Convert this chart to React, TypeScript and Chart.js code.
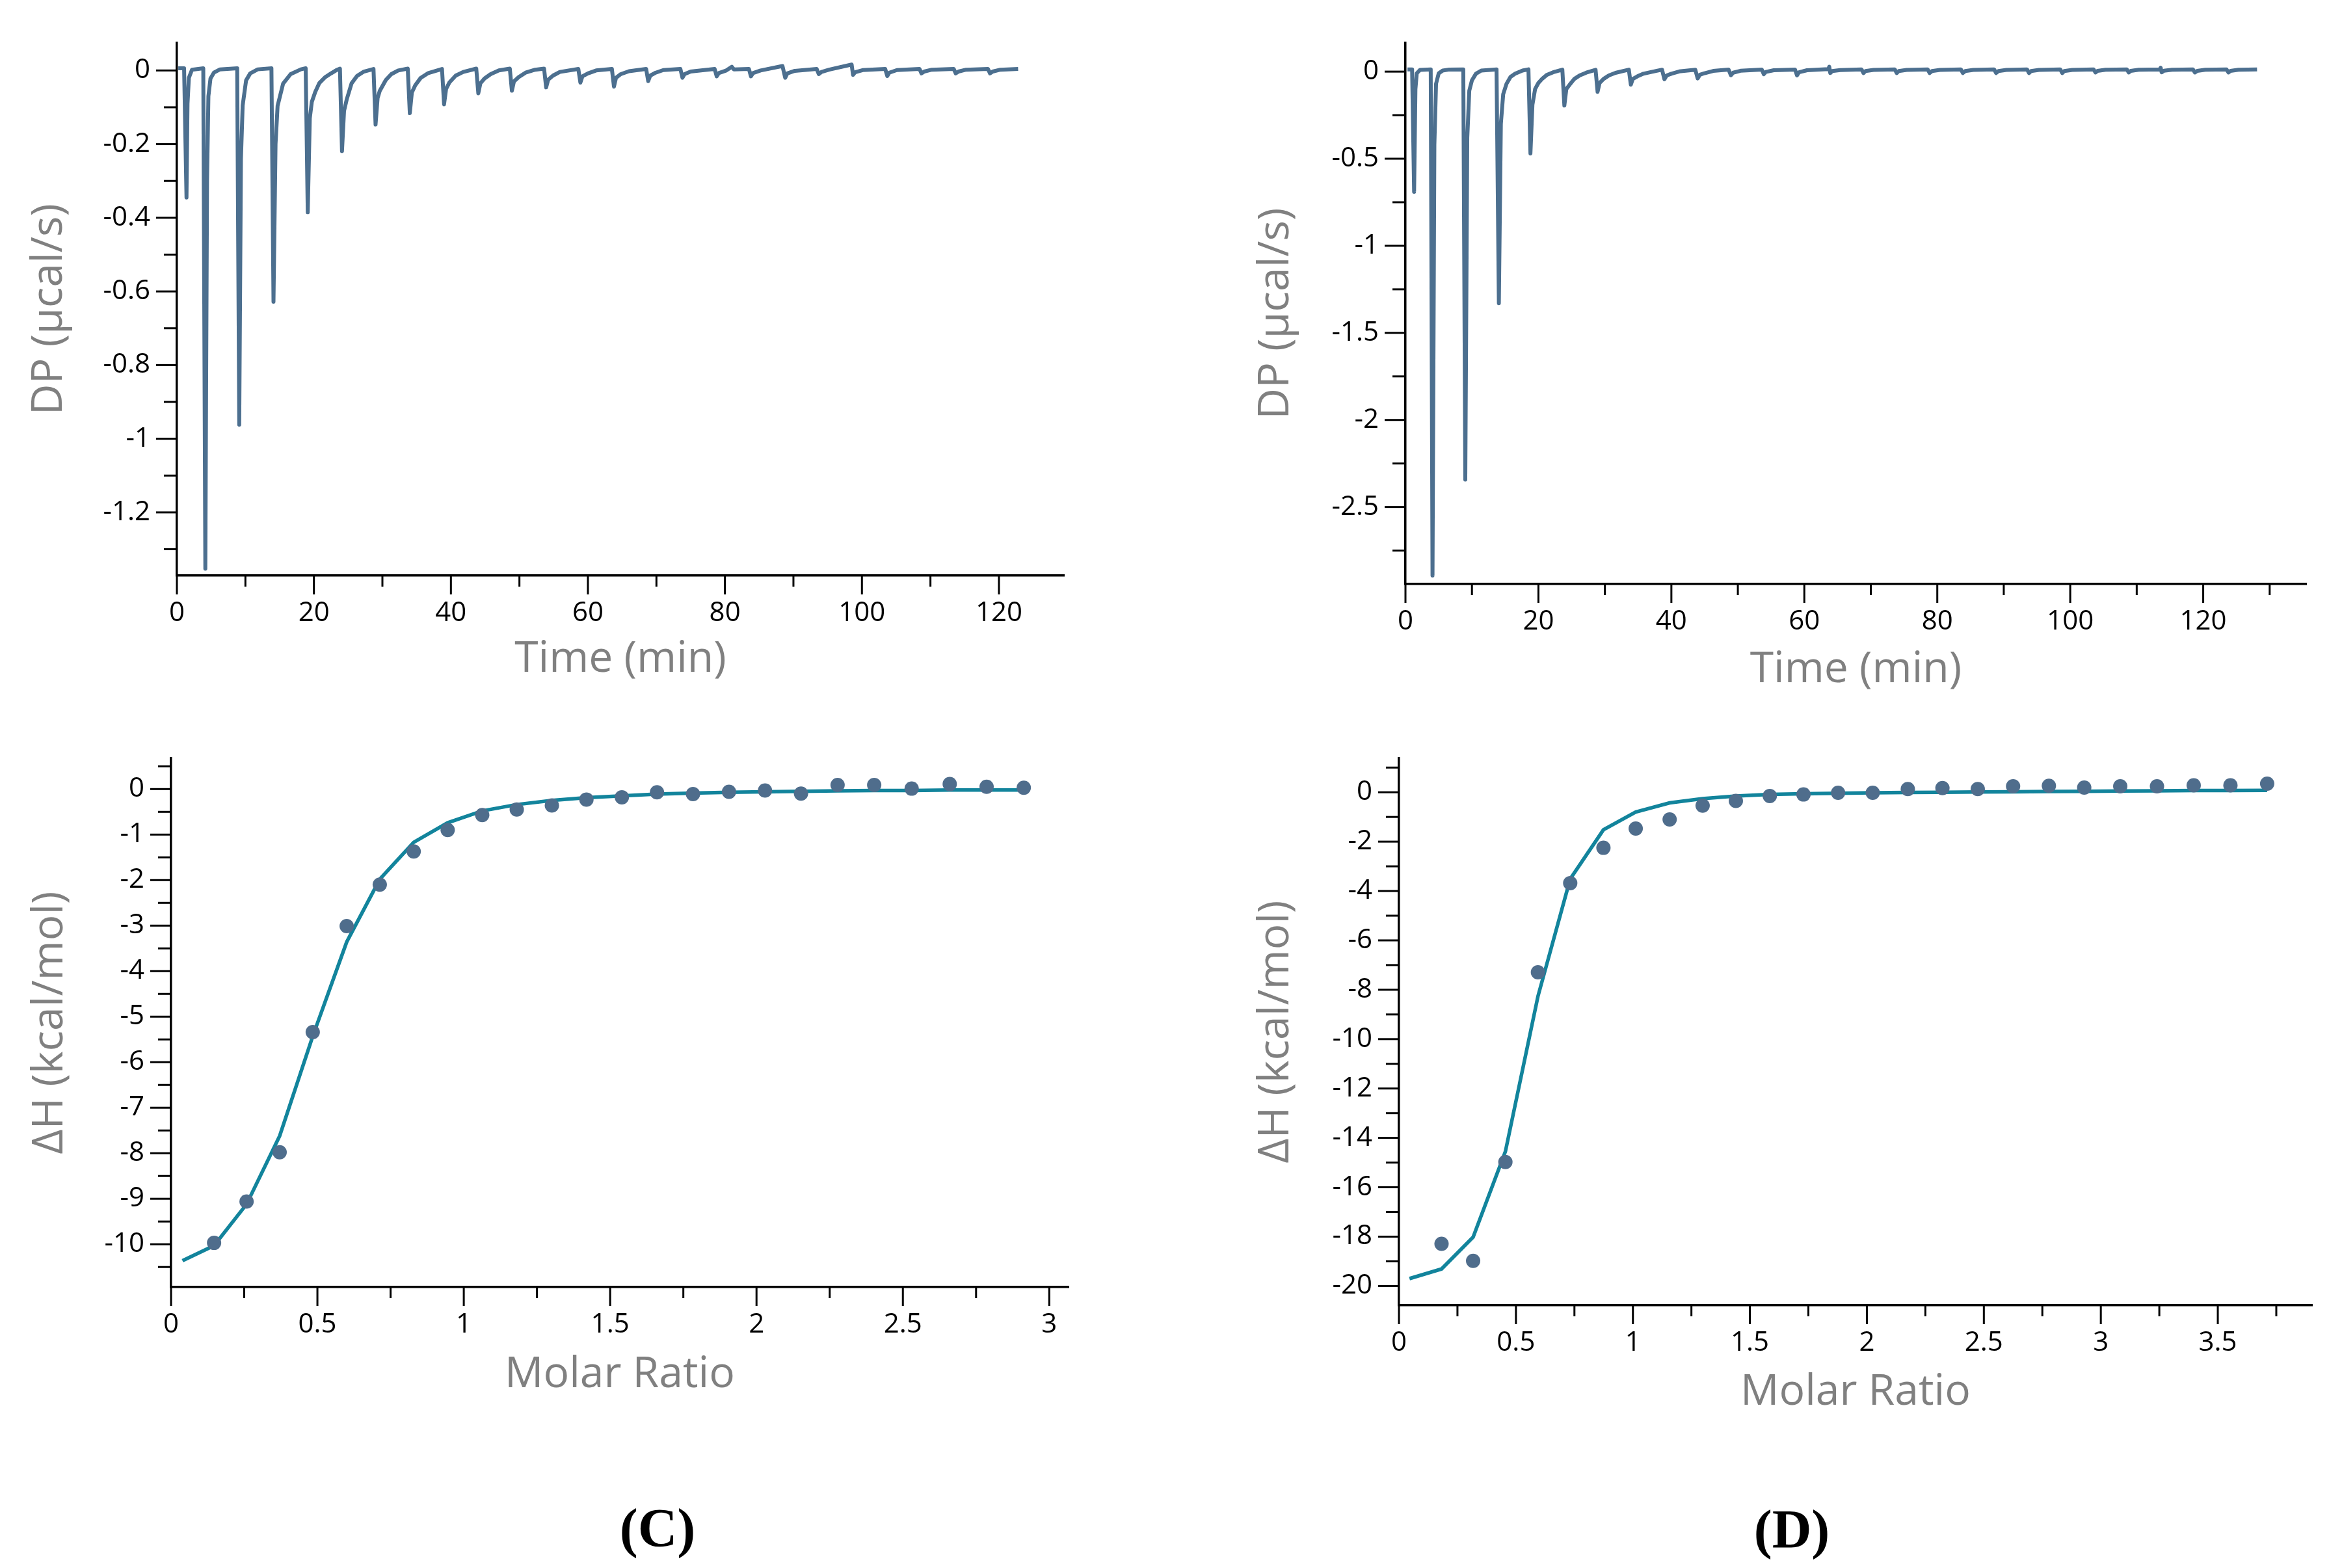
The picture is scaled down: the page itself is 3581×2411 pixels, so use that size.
import React, { useEffect, useRef } from "react";
import { Chart, registerables } from "chart.js";

Chart.register(...registerables);

const FONT = "'Open Sans', 'Noto Sans', sans-serif";
const TRACE = "#4c6f8f";
const DOTS = "#4f6d8c";
const FIT = "#12849c";

// ---- (C) raw thermogram: [time (min), DP (µcal/s)]
const thermoC: [number, number][] = [
  [0.2, 0.006], [1.05, 0.006], [1.4, -0.345], [1.55, -0.09], [1.75, -0.02], [2.2, 0.002], [3.85, 0.006],
  [4.15, -1.353], [4.4, -0.3], [4.6, -0.07], [4.9, -0.022], [5.4, -0.006], [6.3, 0.003], [8.8, 0.006],
  [9.1, -0.962], [9.35, -0.24], [9.6, -0.095], [10.1, -0.027], [10.7, -0.008], [11.8, 0.003], [13.8, 0.006],
  [14.1, -0.628], [14.4, -0.2], [14.7, -0.096], [15.5, -0.036], [16.6, -0.01], [18.1, 0.003], [18.8, 0.006],
  [19.1, -0.385], [19.4, -0.13], [19.7, -0.085], [20.2, -0.058], [20.8, -0.034], [21.6, -0.019], [22.5, -0.008], [23.4, 0.002], [23.8, 0.005],
  [24.1, -0.219], [24.4, -0.11], [24.8, -0.078], [25.5, -0.035], [26.3, -0.015], [27.3, -0.003], [28.7, 0.004],
  [29.0, -0.147], [29.3, -0.075], [29.6, -0.056], [30.5, -0.026], [31.3, -0.01], [32.3, 0.0], [33.7, 0.005],
  [34.0, -0.116], [34.3, -0.06], [34.8, -0.04], [35.6, -0.02], [36.7, -0.007], [38.7, 0.004],
  [39.0, -0.092], [39.3, -0.05], [39.8, -0.032], [40.7, -0.014], [41.8, -0.004], [43.7, 0.005],
  [44.0, -0.062], [44.3, -0.035], [44.9, -0.022], [45.8, -0.01], [47.0, 0.0], [48.6, 0.005],
  [48.9, -0.055], [49.2, -0.03], [49.9, -0.018], [50.9, -0.006], [52.3, 0.002], [53.6, 0.005],
  [53.9, -0.046], [54.2, -0.025], [54.9, -0.014], [55.9, -0.004], [58.6, 0.004],
  [58.9, -0.033], [59.2, -0.016], [60.0, -0.008], [61.2, 0.0], [63.5, 0.004],
  [63.8, -0.044], [64.1, -0.02], [64.8, -0.01], [66.0, -0.002], [68.5, 0.004],
  [68.8, -0.029], [69.1, -0.014], [69.9, -0.006], [71.0, 0.001], [73.5, 0.004],
  [73.8, -0.02], [74.1, -0.01], [75.0, -0.003], [78.5, 0.004],
  [78.8, -0.016], [79.1, -0.007], [80.2, 0.0], [81.0, 0.01], [81.3, 0.003], [83.5, 0.004],
  [83.8, -0.016], [84.1, -0.007], [85.2, 0.0], [88.4, 0.012],
  [88.8, -0.02], [89.1, -0.008], [90.2, -0.001], [93.4, 0.004],
  [93.7, -0.01], [94.1, -0.004], [95.2, 0.002], [98.5, 0.016],
  [98.7, -0.012], [99.0, -0.005], [100.1, 0.001], [103.4, 0.004],
  [103.7, -0.015], [104.0, -0.006], [105.1, 0.001], [108.4, 0.004],
  [108.7, -0.008], [109.1, -0.003], [110.2, 0.002], [113.4, 0.004],
  [113.7, -0.008], [114.1, -0.003], [115.2, 0.002], [118.4, 0.004],
  [118.7, -0.008], [119.1, -0.003], [120.2, 0.002], [122.8, 0.004],
];

// ---- (D) raw thermogram: [time (min), DP (µcal/s)]
const thermoD: [number, number][] = [
  [0.3, 0.013], [1.0, 0.013], [1.3, -0.69], [1.5, -0.1], [1.7, -0.01], [2.2, 0.01], [3.8, 0.013],
  [4.07, -2.893], [4.35, -0.42], [4.6, -0.07], [5.0, -0.01], [5.6, 0.006], [6.6, 0.012], [8.7, 0.013],
  [9.0, -2.343], [9.3, -0.38], [9.6, -0.11], [10.0, -0.05], [10.6, -0.012], [11.4, 0.006], [13.7, 0.013],
  [14.05, -1.33], [14.35, -0.3], [14.7, -0.13], [15.2, -0.07], [15.8, -0.03], [16.5, -0.012], [17.6, 0.006], [18.5, 0.013],
  [18.8, -0.47], [19.1, -0.19], [19.5, -0.1], [20.0, -0.065], [20.6, -0.04], [21.3, -0.018], [22.2, -0.004], [23.6, 0.011],
  [23.9, -0.195], [24.2, -0.1], [24.7, -0.075], [25.4, -0.042], [26.2, -0.022], [27.2, -0.006], [28.6, 0.01],
  [28.9, -0.116], [29.2, -0.065], [29.8, -0.042], [30.6, -0.022], [31.6, -0.007], [33.6, 0.011],
  [33.9, -0.075], [34.2, -0.042], [34.9, -0.027], [35.8, -0.012], [37.0, -0.002], [38.6, 0.011],
  [38.95, -0.044], [39.3, -0.022], [40.0, -0.012], [41.2, 0.001], [43.6, 0.011],
  [43.95, -0.039], [44.3, -0.018], [45.0, -0.009], [46.3, 0.004], [48.6, 0.012],
  [48.95, -0.021], [49.3, -0.006], [50.4, 0.005], [53.6, 0.012],
  [53.9, -0.015], [54.2, -0.002], [55.4, 0.008], [58.6, 0.012],
  [58.9, -0.022], [59.2, -0.004], [60.4, 0.008], [63.6, 0.014], [63.75, 0.028],
  [63.9, -0.008], [64.2, 0.003], [65.4, 0.009], [68.6, 0.013],
  [68.9, -0.008], [69.2, 0.003], [70.4, 0.01], [73.6, 0.013],
  [73.9, -0.008], [74.2, 0.003], [75.4, 0.01], [78.55, 0.013],
  [78.85, -0.008], [79.2, 0.003], [80.4, 0.01], [83.55, 0.013],
  [83.85, -0.008], [84.2, 0.003], [85.4, 0.01], [88.55, 0.013],
  [88.85, -0.008], [89.2, 0.003], [90.4, 0.01], [93.5, 0.013],
  [93.8, -0.008], [94.1, 0.003], [95.3, 0.01], [98.5, 0.013],
  [98.8, -0.008], [99.1, 0.003], [100.3, 0.01], [103.5, 0.013],
  [103.8, -0.005], [104.1, 0.004], [105.3, 0.011], [108.5, 0.013],
  [108.8, -0.005], [109.1, 0.004], [110.3, 0.011], [113.45, 0.013], [113.6, 0.022],
  [113.75, -0.004], [114.1, 0.005], [115.3, 0.011], [118.45, 0.013],
  [118.75, -0.005], [119.1, 0.004], [120.3, 0.011], [123.5, 0.013],
  [123.8, -0.005], [124.1, 0.004], [125.3, 0.011], [128.1, 0.013],
];

// ---- (C) integrated heats and fit
const ratioC = [0.147, 0.258, 0.371, 0.484, 0.6, 0.713, 0.829, 0.945, 1.063, 1.181, 1.301, 1.419,
  1.54, 1.66, 1.783, 1.906, 2.029, 2.152, 2.277, 2.402, 2.53, 2.66, 2.786, 2.913];
const heatC = [-9.97, -9.06, -7.98, -5.34, -3.01, -2.1, -1.37, -0.9, -0.57, -0.45, -0.36, -0.23,
  -0.18, -0.07, -0.11, -0.06, -0.03, -0.1, 0.09, 0.09, 0.01, 0.11, 0.05, 0.03];
const fitRatioC = [0.039, ...ratioC];
const fitHeatC = [-10.36, -10.03, -9.12, -7.62, -5.43, -3.36, -1.98, -1.17, -0.74, -0.48, -0.34, -0.25,
  -0.19, -0.15, -0.11, -0.09, -0.07, -0.06, -0.05, -0.04, -0.03, -0.03, -0.02, -0.02, -0.02];

// ---- (D) integrated heats and fit
const ratioD = [0.182, 0.317, 0.455, 0.594, 0.732, 0.874, 1.012, 1.157, 1.298, 1.44, 1.585, 1.729,
  1.877, 2.025, 2.175, 2.323, 2.474, 2.625, 2.778, 2.929, 3.083, 3.24, 3.397, 3.554, 3.711];
const heatD = [-18.29, -18.98, -14.98, -7.29, -3.68, -2.25, -1.47, -1.1, -0.54, -0.35, -0.15, -0.09,
  -0.02, -0.02, 0.13, 0.17, 0.13, 0.24, 0.26, 0.19, 0.24, 0.24, 0.28, 0.28, 0.35];
const fitRatioD = [0.045, ...ratioD];
const fitHeatD = [-19.7, -19.31, -18.02, -14.55, -8.27, -3.51, -1.52, -0.8, -0.43, -0.26, -0.15, -0.09,
  -0.06, -0.04, -0.02, -0.01, 0.0, 0.01, 0.02, 0.03, 0.04, 0.05, 0.06, 0.07, 0.07, 0.08];

// ---- ticks (all tick marks) and the ones carrying labels
const timeTicksC = [0, 10, 20, 30, 40, 50, 60, 70, 80, 90, 100, 110, 120];
const timeTicksD = [0, 10, 20, 30, 40, 50, 60, 70, 80, 90, 100, 110, 120, 130];
const timeLabels = [0, 20, 40, 60, 80, 100, 120];
const dpTicksC = [0, -0.1, -0.2, -0.3, -0.4, -0.5, -0.6, -0.7, -0.8, -0.9, -1, -1.1, -1.2, -1.3];
const dpLabelsC = [0, -0.2, -0.4, -0.6, -0.8, -1, -1.2];
const dpTicksD = [0, -0.25, -0.5, -0.75, -1, -1.25, -1.5, -1.75, -2, -2.25, -2.5, -2.75];
const dpLabelsD = [0, -0.5, -1, -1.5, -2, -2.5];
const ratioTicksC = [0, 0.25, 0.5, 0.75, 1, 1.25, 1.5, 1.75, 2, 2.25, 2.5, 2.75, 3];
const ratioLabelsC = [0, 0.5, 1, 1.5, 2, 2.5, 3];
const ratioTicksD = [0, 0.25, 0.5, 0.75, 1, 1.25, 1.5, 1.75, 2, 2.25, 2.5, 2.75, 3, 3.25, 3.5, 3.75];
const ratioLabelsD = [0, 0.5, 1, 1.5, 2, 2.5, 3, 3.5];
const heatTicksC = [0.5, 0, -0.5, -1, -1.5, -2, -2.5, -3, -3.5, -4, -4.5, -5, -5.5, -6, -6.5, -7, -7.5,
  -8, -8.5, -9, -9.5, -10, -10.5];
const heatLabelsC = [0, -1, -2, -3, -4, -5, -6, -7, -8, -9, -10];
const heatTicksD = [1, 0, -1, -2, -3, -4, -5, -6, -7, -8, -9, -10, -11, -12, -13, -14, -15, -16, -17,
  -18, -19, -20];
const heatLabelsD = [0, -2, -4, -6, -8, -10, -12, -14, -16, -18, -20];

const has = (list: number[], v: number) => list.some((l) => Math.abs(l - v) < 1e-9);
const toXY = (xs: number[], ys: number[]) => xs.map((x, i) => ({ x, y: ys[i] }));

// draws outward tick marks, long where the tick has a label
const tickMarks = {
  id: "tickMarks",
  afterDraw(chart: any) {
    const { ctx, chartArea } = chart;
    const xs = chart.scales.x;
    const ys = chart.scales.y;
    ctx.save();
    ctx.strokeStyle = "#000";
    ctx.lineWidth = 3;
    xs.ticks.forEach((t: any) => {
      const px = xs.getPixelForValue(t.value);
      const len = t.label !== "" ? 29 : 17;
      ctx.beginPath();
      ctx.moveTo(px, chartArea.bottom);
      ctx.lineTo(px, chartArea.bottom + len);
      ctx.stroke();
    });
    ys.ticks.forEach((t: any) => {
      const py = ys.getPixelForValue(t.value);
      const len = t.label !== "" ? 32 : 20;
      ctx.beginPath();
      ctx.moveTo(chartArea.left, py);
      ctx.lineTo(chartArea.left - len, py);
      ctx.stroke();
    });
    ctx.restore();
  },
};

interface PanelProps {
  left: number;
  top: number;
  width: number;
  height: number;
  padTop: number;
  padRight: number;
  yWidth: number;
  xHeight: number;
  xRange: [number, number];
  yRange: [number, number];
  xTicks: number[];
  xLabels: number[];
  yTicks: number[];
  yLabels: number[];
  xTitle: string;
  yTitle: string;
  xTitlePad: number;
  yTitlePad: number;
  datasets: any[];
}

const Panel: React.FC<PanelProps> = (p) => {
  const canvasRef = useRef<HTMLCanvasElement>(null);

  useEffect(() => {
    if (!canvasRef.current) return;
    const chart = new Chart(canvasRef.current, {
      type: "line",
      data: { datasets: p.datasets },
      options: {
        responsive: false,
        animation: false,
        devicePixelRatio: 1,
        events: [],
        layout: { padding: { top: p.padTop, right: p.padRight, left: 0, bottom: 0 } },
        plugins: { legend: { display: false }, tooltip: { enabled: false } },
        scales: {
          x: {
            type: "linear",
            min: p.xRange[0],
            max: p.xRange[1],
            grid: { display: false, drawTicks: false },
            border: { display: true, color: "#000", width: 3.5 },
            afterBuildTicks: (s: any) => {
              s.ticks = p.xTicks.map((value) => ({ value }));
            },
            afterFit: (s: any) => {
              s.height = p.xHeight;
            },
            ticks: {
              autoSkip: false,
              maxRotation: 0,
              padding: 33,
              color: "#000",
              font: { family: FONT, size: 42 },
              callback: (v: any) => (has(p.xLabels, Number(v)) ? String(v) : ""),
            },
            title: {
              display: true,
              text: p.xTitle,
              color: "#808080",
              font: { family: FONT, size: 66 },
              padding: { top: 0, bottom: p.xTitlePad },
            },
          },
          y: {
            type: "linear",
            min: p.yRange[0],
            max: p.yRange[1],
            grid: { display: false, drawTicks: false },
            border: { display: true, color: "#000", width: 3.5 },
            afterBuildTicks: (s: any) => {
              s.ticks = p.yTicks.map((value) => ({ value }));
            },
            afterFit: (s: any) => {
              s.width = p.yWidth;
            },
            ticks: {
              autoSkip: false,
              padding: 41,
              color: "#000",
              font: { family: FONT, size: 42 },
              callback: (v: any) => (has(p.yLabels, Number(v)) ? String(v) : ""),
            },
            title: {
              display: true,
              text: p.yTitle,
              color: "#808080",
              font: { family: FONT, size: 66 },
              padding: { top: p.yTitlePad, bottom: 0 },
            },
          },
        },
      } as any,
      plugins: [tickMarks],
    });
    return () => {
      chart.destroy();
    };
  }, []);

  return (
    <canvas
      ref={canvasRef}
      width={p.width}
      height={p.height}
      style={{ position: "absolute", left: p.left, top: p.top, width: p.width, height: p.height }}
    />
  );
};

const traceSet = (data: [number, number][]) => ({
  data: data.map(([x, y]) => ({ x, y })),
  borderColor: TRACE,
  borderWidth: 6,
  borderJoinStyle: "round",
  pointRadius: 0,
  tension: 0,
  fill: false,
});

const heatSets = (rx: number[], hy: number[], fx: number[], fy: number[]) => [
  {
    data: toXY(rx, hy),
    showLine: false,
    pointRadius: 11,
    pointBackgroundColor: DOTS,
    pointBorderWidth: 0,
    order: 0,
  },
  {
    data: toXY(fx, fy),
    borderColor: FIT,
    borderWidth: 5.5,
    pointRadius: 0,
    tension: 0,
    fill: false,
    order: 1,
  },
];

const letterStyle: React.CSSProperties = {
  position: "absolute",
  transform: "translate(-50%, -50%)",
  fontFamily: "'Liberation Serif', 'Times New Roman', serif",
  fontWeight: "bold",
  fontSize: 84,
  lineHeight: 1,
  color: "#000",
};

const App: React.FC = () => {
  return (
    <div
      style={{
        position: "absolute",
        left: 0,
        top: 0,
        width: 3581,
        height: 2411,
        background: "#fff",
        overflow: "hidden",
      }}
    >
      <Panel
        left={0} top={0} width={1760} height={1100}
        padTop={41} padRight={124} yWidth={272} xHeight={215}
        xRange={[0, 129.5]} yRange={[-1.3715, 0.0744]}
        xTicks={timeTicksC} xLabels={timeLabels} yTicks={dpTicksC} yLabels={dpLabelsC}
        xTitle="Time (min)" yTitle="DP (µcal/s)" xTitlePad={46} yTitlePad={37}
        datasets={[traceSet(thermoC)]}
      />
      <Panel
        left={1800} top={0} width={1781} height={1100}
        padTop={41} padRight={35} yWidth={361} xHeight={202}
        xRange={[0, 135.5]} yRange={[-2.942, 0.164]}
        xTicks={timeTicksD} xLabels={timeLabels} yTicks={dpTicksD} yLabels={dpLabelsD}
        xTitle="Time (min)" yTitle="DP (µcal/s)" xTitlePad={30} yTitlePad={123}
        datasets={[traceSet(thermoD)]}
      />
      <Panel
        left={0} top={1100} width={1760} height={1100}
        padTop={33} padRight={117} yWidth={263} xHeight={221}
        xRange={[0, 3.066]} yRange={[-10.94, 0.673]}
        xTicks={ratioTicksC} xLabels={ratioLabelsC} yTicks={heatTicksC} yLabels={heatLabelsC}
        xTitle="Molar Ratio" yTitle="ΔH (kcal/mol)" xTitlePad={46} yTitlePad={38}
        datasets={heatSets(ratioC, heatC, fitRatioC, fitHeatC)}
      />
      <Panel
        left={1800} top={1100} width={1781} height={1100}
        padTop={50} padRight={26} yWidth={351} xHeight={193}
        xRange={[0, 3.903]} yRange={[-20.78, 1.37]}
        xTicks={ratioTicksD} xLabels={ratioLabelsD} yTicks={heatTicksD} yLabels={heatLabelsD}
        xTitle="Molar Ratio" yTitle="ΔH (kcal/mol)" xTitlePad={19} yTitlePad={123}
        datasets={heatSets(ratioD, heatD, fitRatioD, fitHeatD)}
      />
      <div style={{ ...letterStyle, left: 1011, top: 2350 }}>(C)</div>
      <div style={{ ...letterStyle, left: 2755, top: 2352 }}>(D)</div>
    </div>
  );
};

export default App;
